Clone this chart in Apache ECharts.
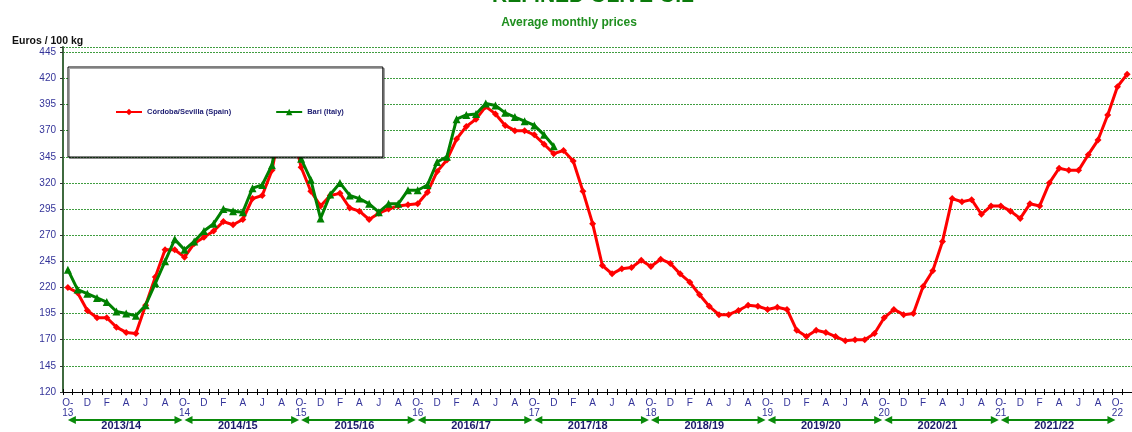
<!DOCTYPE html>
<html>
<head>
<meta charset="utf-8">
<script src="https://cdn.jsdelivr.net/npm/echarts@6/dist/echarts.min.js"></script>
<style>
html,body{margin:0;padding:0;background:#fff;}
#chart{width:1132px;height:432px;}
</style>
</head>
<body>
<div id="chart"></div>
<script>
// ---- data ----
const seasonYears = ['13','14','15','16','17','18','19','20','21','22'];
const monthInitials = ['O','N','D','J','F','M','A','M','J','J','A','S'];
const seasonLabels = ['2013/14','2014/15','2015/16','2016/17','2017/18','2018/19','2019/20','2020/21','2021/22'];
const yTicks = {min:120, max:450, interval:25};

// Córdoba/Sevilla (Spain), Oct-13 .. Nov-22
const cordoba = [
  220,215,198,191,191,182,177,176,203,230,256,256,
  249,262,268,274,283,280,285,305,308,332,380,375,
  335,312,298,308,310,296,293,285,291,295,298,299,
  300,311,331,342,362,374,381,393,386,375,370,370,
  366,357,348,351,341,312,281,241,233,238,239,246,
  240,247,243,233,225,213,202,194,194,198,203,202,
  199,201,199,179,173,179,177,173,169,170,170,176,
  191,199,194,195,221,236,264,305,302,304,290,298,
  298,293,286,300,298,320,334,332,332,347,361,385,
  412,424
];
// Bari (Italy), Oct-13 .. Dec-17
const bari = [
  237,218,214,210,206,197,195,193,203,224,245,266,
  256,264,274,281,295,293,292,315,318,337,385,382,
  343,323,286,309,320,308,305,300,292,300,300,313,
  313,318,340,345,381,385,386,396,394,387,383,379,
  375,366,355
];

// categories built from the season/month tick labels
const categories = [];
for (let s = 0; s < seasonYears.length; s++) {
  for (let m = 0; m < 12; m++) {
    if (categories.length >= cordoba.length) break;
    const yr = (m < 3) ? seasonYears[s] : seasonYears[s+1];
    categories.push(monthInitials[m] + '|' + (m===0 ? seasonYears[s] : yr));
  }
}
const seasonData = seasonLabels.map((l,i)=>[i*12, (i+1)*12, l]);

const navy = '#333399';
const chart = echarts.init(document.getElementById('chart'), null, {renderer:'canvas'});
chart.setOption({
  animation:false,
  textStyle:{fontFamily:'Liberation Sans, Arial, sans-serif'},
  title:[
    {text:'REFINED OLIVE OIL', left:588, top:-19, textAlign:'center',
     textStyle:{fontSize:21, fontWeight:'bold', color:'#0b7a0b', fontFamily:'Liberation Sans, Arial, sans-serif'}},
    {text:'Average monthly prices', left:564, top:12, textAlign:'center',
     textStyle:{fontSize:12, fontWeight:'bold', color:'#1f8f1f', fontFamily:'Liberation Sans, Arial, sans-serif'}},
    {text:'Euros / 100 kg', left:7, top:31,
     textStyle:{fontSize:10.5, fontWeight:'bold', color:'#111', fontFamily:'Liberation Sans, Arial, sans-serif'}}
  ],
  legend:{
    data:['Córdoba/Sevilla (Spain)','Bari (Italy)'],
    left:68, top:67, orient:'horizontal',
    padding:[41,39,41,47], itemGap:44, itemWidth:26, itemHeight:8,
    backgroundColor:'#fff', borderColor:'#000', borderWidth:1,
    shadowColor:'rgba(0,0,0,0.35)', shadowOffsetX:1.5, shadowOffsetY:1.5, shadowBlur:0,
    textStyle:{fontSize:7.5, fontWeight:'bold', color:'#1a1a70'},
    selectedMode:false
  },
  grid:[
    {left:63, right:0, top:47, bottom:40, containLabel:false},
    {left:63, right:0, top:412, height:16, containLabel:false}
  ],
  xAxis:[
    {type:'category', gridIndex:0, data:categories, boundaryGap:true, position:'bottom',
     axisLine:{lineStyle:{color:'#000', width:1}},
     axisTick:{show:true, interval:0, length:3, lineStyle:{color:'#000'}},
     axisLabel:{interval:1, margin:6, fontSize:10, color:navy, lineHeight:10,
       formatter:function(v){ const p=v.split('|'); return p[0]==='O' ? 'O-\n'+p[1] : p[0]; }},
     splitLine:{show:false}},
    {type:'category', gridIndex:0, data:categories, boundaryGap:true, position:'bottom',
     axisLine:{show:false}, axisLabel:{show:false},
     axisTick:{show:true, inside:true, interval:0, length:3, lineStyle:{color:'#000'}}},
    {type:'category', gridIndex:1, data:categories, boundaryGap:true, show:false}
  ],
  yAxis:[
    {type:'value', gridIndex:0, min:yTicks.min, max:yTicks.max, interval:yTicks.interval,
     axisLine:{show:true, lineStyle:{color:'#3f6a3f', width:2}},
     axisTick:{show:true, length:3, lineStyle:{color:'#333'}},
     axisLabel:{fontSize:10, color:navy, margin:7, formatter:function(v){return v===450?'':v;}},
     splitLine:{show:true, lineStyle:{color:'rgba(30,140,30,0.85)', width:1, type:[2,1]}}},
    {type:'value', gridIndex:1, min:0, max:1, show:false}
  ],
  series:[
    {name:'Córdoba/Sevilla (Spain)', type:'line', xAxisIndex:0, yAxisIndex:0, data:cordoba,
     color:'#ff0000', lineStyle:{width:3, color:'#ff0000'}, itemStyle:{color:'#ff0000'},
     symbol:'diamond', symbolSize:7, showAllSymbol:true, z:2},
    {name:'Bari (Italy)', type:'line', xAxisIndex:0, yAxisIndex:0, data:bari,
     color:'#008000', lineStyle:{width:3, color:'#008000'}, itemStyle:{color:'#008000'},
     symbol:'triangle', symbolSize:8, showAllSymbol:true, z:3},
    {type:'custom', xAxisIndex:2, yAxisIndex:1, data:seasonData, clip:false, silent:true,
     renderItem:function(params, api){
       const p1 = api.coord([api.value(0), 1]);
       const p2 = api.coord([api.value(1), 1]);
       const y = 420;
       const x1 = p1[0], x2 = p2[0]-2;
       const g = '#0a8a0a';
       return {type:'group', children:[
         {type:'line', shape:{x1:x1+6, y1:y, x2:x2-6, y2:y}, style:{stroke:g, lineWidth:2}},
         {type:'polygon', shape:{points:[[x1,y],[x1+8,y-4],[x1+8,y+4]]}, style:{fill:g}},
         {type:'polygon', shape:{points:[[x2,y],[x2-8,y-4],[x2-8,y+4]]}, style:{fill:g}},
         {type:'text', style:{text:seasonData[params.dataIndex][2], x:(x1+x2)/2-4, y:426,
           textAlign:'center', textVerticalAlign:'middle', fill:'#1c1c6c',
           font:'bold 11px Liberation Sans, Arial, sans-serif'}}
       ]};
     }}
  ]
});
</script>
</body>
</html>
